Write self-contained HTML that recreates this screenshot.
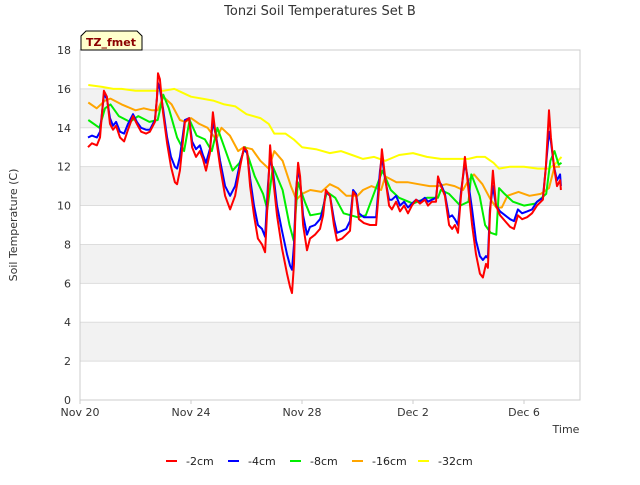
<!DOCTYPE html>
<html><head><meta charset="utf-8"><style>
body{margin:0;background:#fff;}
svg text{font-family:"DejaVu Sans","Liberation Sans",sans-serif;}
</style></head><body>
<svg id="chart" width="640" height="480" xmlns="http://www.w3.org/2000/svg">
<rect width="640" height="480" fill="#fff"/>
<g id="bands"></g>
<g id="grid"></g>
<rect x="80" y="50" width="500" height="350" fill="none" stroke="#ccc"/>
<g id="yticks"></g><g id="xticks"></g>
<g id="series"></g>
<text x="320" y="15" text-anchor="middle" font-size="13" fill="#333">Tonzi Soil Temperatures Set B</text>
<text x="17" y="225" text-anchor="middle" font-size="11" fill="#333" transform="rotate(-90 17 225)">Soil Temperature (C)</text>
<text x="566" y="433" text-anchor="middle" font-size="11" fill="#333">Time</text>
<g>
<path d="M81,50 L81,36 L86,31 L137,31 L142,36 L142,50 Z" fill="#ffffcc" stroke="#000" stroke-width="1"/>
<text x="111" y="46" text-anchor="middle" font-size="11" font-weight="bold" fill="#8b0000">TZ_fmet</text>
</g>
<g id="legend"></g>
</svg>
<script>
const yTicks=[0,2,4,6,8,10,12,14,16,18];
const xTickLabels=["Nov 20","Nov 24","Nov 28","Dec 2","Dec 6"];
const xTickDays=[0,4,8,12,16];
const gridT=[0.29,0.43,0.61,0.72,0.86,0.97,1.08,1.19,1.30,1.44,1.59,1.73,1.91,2.05,2.20,2.38,2.52,2.70,2.77,2.81,2.88,2.99,3.14,3.28,3.42,3.50,3.60,3.78,3.93,4.04,4.18,4.32,4.43,4.54,4.68,4.79,4.90,5.05,5.23,5.41,5.59,5.77,5.91,6.02,6.13,6.27,6.41,6.56,6.67,6.77,6.85,6.95,7.10,7.28,7.46,7.57,7.64,7.71,7.78,7.86,7.93,8.04,8.18,8.29,8.47,8.65,8.76,8.86,9.01,9.15,9.26,9.44,9.59,9.73,9.84,9.95,10.05,10.23,10.45,10.67,10.81,10.88,10.99,11.14,11.24,11.39,11.53,11.68,11.82,11.96,12.11,12.25,12.43,12.54,12.68,12.83,12.90,13.01,13.15,13.30,13.41,13.51,13.62,13.73,13.87,13.95,14.13,14.27,14.41,14.52,14.63,14.70,14.77,14.88,14.99,15.14,15.32,15.50,15.64,15.78,15.93,16.11,16.29,16.47,16.68,16.79,16.90,16.97,17.08,17.19,17.30,17.33];
const red=[13.0,13.2,13.1,13.5,15.9,15.6,14.2,13.9,14.1,13.5,13.3,13.9,14.6,14.2,13.8,13.7,13.8,14.3,15.5,16.8,16.5,14.8,13.2,12.0,11.2,11.1,11.8,14.3,14.5,13.0,12.5,12.8,12.4,11.8,12.7,14.8,13.5,12.0,10.5,9.8,10.5,12.0,13.0,12.8,11.0,9.5,8.3,8.0,7.6,10.5,13.1,11.5,9.5,7.8,6.5,5.8,5.5,7.0,10.5,12.2,11.5,9.0,7.7,8.3,8.5,8.8,9.5,10.8,10.5,9.0,8.2,8.3,8.5,8.7,10.7,10.5,9.3,9.1,9.0,9.0,11.5,12.9,11.5,10.0,9.8,10.2,9.7,10.0,9.6,10.0,10.3,10.1,10.3,10.0,10.2,10.2,11.5,11.0,10.5,9.0,8.8,9.0,8.6,10.5,12.5,11.5,9.0,7.5,6.5,6.3,7.0,6.8,9.5,11.8,10.0,9.5,9.2,8.9,8.8,9.5,9.3,9.4,9.6,10.0,10.3,12.0,14.9,13.5,12.0,11.0,11.3,10.8];
const blue=[13.5,13.6,13.5,13.8,15.7,15.5,14.5,14.1,14.3,13.8,13.7,14.2,14.7,14.3,14.0,13.9,13.9,14.4,15.5,16.3,16.0,15.0,13.5,12.5,12.0,11.9,12.5,14.4,14.5,13.3,12.9,13.1,12.6,12.2,12.9,14.3,13.6,12.3,11.0,10.5,11.0,12.2,12.9,12.7,11.4,10.0,9.0,8.8,8.4,11.0,12.5,11.8,10.0,8.7,7.5,6.9,6.7,8.0,10.7,11.9,11.3,9.5,8.5,8.9,9.0,9.3,9.8,10.7,10.5,9.3,8.6,8.7,8.8,9.2,10.8,10.6,9.6,9.4,9.4,9.4,11.8,12.5,11.4,10.3,10.3,10.5,10.0,10.2,9.9,10.1,10.3,10.2,10.4,10.2,10.3,10.4,11.3,11.1,10.6,9.4,9.5,9.3,9.0,10.7,12.2,11.6,9.8,8.2,7.4,7.2,7.4,7.3,9.8,11.0,10.0,9.7,9.5,9.3,9.2,9.8,9.6,9.7,9.8,10.2,10.4,12.0,13.8,13.3,12.0,11.3,11.6,11.0];
const greenT=[0.3,0.7,0.9,1.1,1.4,1.8,2.1,2.5,2.8,3.0,3.2,3.5,3.75,3.95,4.2,4.5,4.75,4.95,5.2,5.5,5.75,5.95,6.3,6.6,6.75,6.95,7.3,7.55,7.7,7.85,8.1,8.3,8.7,8.9,9.2,9.5,10.0,10.3,10.9,11.2,11.5,12.0,12.5,12.9,13.0,13.3,13.7,14.0,14.1,14.4,14.6,14.8,15.0,15.1,15.3,15.6,16.0,16.4,16.8,16.95,17.1,17.25,17.35];
const green=[14.4,14.0,15.0,15.2,14.6,14.3,14.6,14.3,14.4,15.7,15.0,13.5,12.8,14.4,13.6,13.4,12.8,14.0,13.0,11.8,12.2,13.0,11.5,10.6,9.8,12.0,10.8,9.0,8.2,11.2,10.2,9.5,9.6,10.7,10.4,9.6,9.4,9.5,11.8,10.8,10.4,10.1,10.4,10.4,10.8,10.6,10.0,10.2,11.6,10.5,9.0,8.6,8.5,10.9,10.6,10.2,10.0,10.1,10.6,12.3,12.8,12.1,12.2];
const orangeT=[0.3,0.6,0.9,1.1,1.5,2.0,2.3,2.6,2.8,3.0,3.3,3.6,3.8,4.0,4.3,4.6,4.9,5.1,5.4,5.7,5.9,6.2,6.5,6.8,7.0,7.3,7.6,7.8,8.0,8.3,8.7,9.0,9.3,9.6,10.0,10.2,10.5,10.85,11.0,11.4,11.8,12.2,12.6,12.9,13.2,13.5,13.8,14.0,14.2,14.5,14.8,15.0,15.2,15.4,15.8,16.2,16.6,16.9,17.1,17.3];
const orange=[15.3,15.0,15.4,15.5,15.2,14.9,15.0,14.9,14.9,15.6,15.2,14.4,14.3,14.5,14.2,14.0,13.4,14.0,13.6,12.8,13.0,12.9,12.3,11.9,12.8,12.3,11.0,10.3,10.6,10.8,10.7,11.1,10.9,10.5,10.5,10.8,11.0,10.8,11.5,11.2,11.2,11.1,11.0,11.0,11.1,11.0,10.8,11.3,11.6,11.1,10.3,9.9,9.9,10.5,10.7,10.5,10.6,10.9,12.0,12.0];
const yellowT=[0.3,0.8,1.2,1.5,2.0,2.5,3.0,3.4,3.7,4.0,4.4,4.8,5.2,5.6,6.0,6.5,6.8,7.0,7.4,7.7,8.0,8.5,9.0,9.4,9.8,10.2,10.6,11.0,11.5,12.0,12.5,13.0,13.4,13.7,14.0,14.3,14.6,14.9,15.1,15.5,16.0,16.5,16.9,17.1,17.35];
const yellow=[16.2,16.1,16.0,16.0,15.9,15.9,15.9,16.0,15.8,15.6,15.5,15.4,15.2,15.1,14.7,14.5,14.2,13.7,13.7,13.4,13.0,12.9,12.7,12.8,12.6,12.4,12.5,12.3,12.6,12.7,12.5,12.4,12.4,12.4,12.4,12.5,12.5,12.2,11.9,12.0,12.0,11.9,11.9,12.1,12.5];
const seriesNames=["-2cm","-4cm","-8cm","-16cm","-32cm"];
const NS="http://www.w3.org/2000/svg";
const X0=80,X1=580,Y0=400,Y1=50;
function xs(d){return X0+d*27.75;}
function ys(v){return Y0-(v/18)*(Y0-Y1);}
function mk(tag,attrs,parent){const e=document.createElementNS(NS,tag);for(const k in attrs)e.setAttribute(k,attrs[k]);parent.appendChild(e);return e;}
const bands=document.getElementById('bands'),grid=document.getElementById('grid'),yt=document.getElementById('yticks'),xt=document.getElementById('xticks');
for(let i=0;i<yTicks.length;i++){const v=yTicks[i];
 if(i%2===1&&i<yTicks.length-1){const b=mk('rect',{x:X0,y:ys(yTicks[i+1]),width:X1-X0,height:ys(v)-ys(yTicks[i+1]),fill:'#f2f2f2'},bands);
 
 }
 const g=mk('line',{x1:X0,x2:X1,y1:ys(v),y2:ys(v),stroke:'#ddd'},grid);
 
 
 const t=mk('text',{x:71,y:ys(v)+4,'text-anchor':'end','font-size':'11',fill:'#333'},yt);t.textContent=v;
 
 }
for(let i=0;i<xTickDays.length;i++){const x=xs(xTickDays[i]);
 mk('line',{x1:x,x2:x,y1:Y0,y2:Y0+4,stroke:'#ccc'},xt);
 const t=mk('text',{x:x,y:416,'text-anchor':'middle','font-size':'11',fill:'#333'},xt);t.textContent=xTickLabels[i];
 
 }
const sg=document.getElementById('series');
const defs=[[gridT,red,'#ff0000'],[gridT,blue,'#0000ff'],[greenT,green,'#00ee00'],[orangeT,orange,'#ffa500'],[yellowT,yellow,'#ffff00']];
for(let k=defs.length-1;k>=0;k--){const [T,V,c]=defs[k];
 const p=mk('polyline',{points:T.map((t,i)=>xs(t).toFixed(1)+','+ys(V[i]).toFixed(1)).join(' '),fill:'none',stroke:c,'stroke-width':'2','stroke-linejoin':'round'},sg);
 
 }
const lg=document.getElementById('legend');
const lx=[166,228,290,352,418];
for(let k=0;k<5;k++){const g=mk('g',{},lg);
 
 
 mk('line',{x1:lx[k],x2:lx[k]+11,y1:461,y2:461,stroke:defs[k][2],'stroke-width':'2'},g);
 const t=mk('text',{x:lx[k]+20,y:465,'font-size':'11',fill:'#222'},g);t.textContent=seriesNames[k];}
</script>
</body></html>
